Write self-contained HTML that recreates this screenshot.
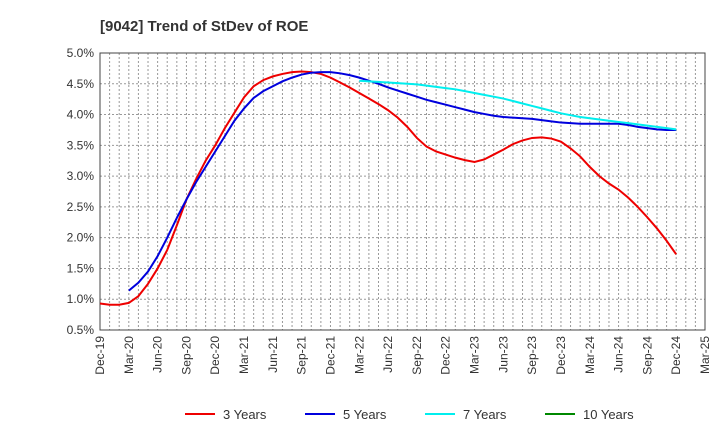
<!DOCTYPE html>
<html><head><meta charset="utf-8"><style>
body{margin:0;background:#fff;font-family:"Liberation Sans",sans-serif}
</style></head><body>
<svg id="c" width="720" height="440" xmlns="http://www.w3.org/2000/svg" style="font-family:'Liberation Sans',sans-serif">
<text x="100" y="31" font-size="15" font-weight="bold" fill="#333">[9042]  Trend of StDev of ROE</text>
</svg>
<script>
const xLabels=["Dec-19","Mar-20","Jun-20","Sep-20","Dec-20","Mar-21","Jun-21","Sep-21","Dec-21","Mar-22","Jun-22","Sep-22","Dec-22","Mar-23","Jun-23","Sep-23","Dec-23","Mar-24","Jun-24","Sep-24","Dec-24","Mar-25"];
const yTicks=[0.5,1.0,1.5,2.0,2.5,3.0,3.5,4.0,4.5,5.0];
const s3=[0.93,0.91,0.91,0.94,1.05,1.25,1.5,1.8,2.2,2.62,2.95,3.25,3.5,3.78,4.03,4.28,4.46,4.56,4.62,4.66,4.69,4.7,4.69,4.66,4.6,4.52,4.44,4.35,4.26,4.17,4.07,3.95,3.8,3.62,3.48,3.4,3.35,3.3,3.26,3.23,3.27,3.35,3.43,3.52,3.58,3.62,3.63,3.61,3.56,3.45,3.32,3.15,3.0,2.88,2.78,2.65,2.5,2.33,2.15,1.95,1.73];
const s5=[1.14,1.27,1.45,1.7,2.0,2.32,2.62,2.9,3.15,3.4,3.65,3.9,4.1,4.27,4.38,4.46,4.54,4.6,4.65,4.68,4.69,4.69,4.67,4.64,4.6,4.55,4.5,4.44,4.39,4.34,4.29,4.24,4.2,4.16,4.12,4.08,4.04,4.01,3.98,3.96,3.95,3.94,3.93,3.91,3.89,3.87,3.86,3.85,3.85,3.85,3.85,3.85,3.83,3.8,3.78,3.76,3.75,3.75];
const s7=[4.55,4.54,4.53,4.52,4.51,4.5,4.49,4.47,4.45,4.43,4.41,4.38,4.35,4.32,4.29,4.26,4.22,4.18,4.14,4.1,4.06,4.02,3.99,3.96,3.94,3.92,3.9,3.88,3.86,3.84,3.82,3.8,3.78,3.76];
const s10=[];
const seriesNames=["3 Years","5 Years","7 Years","10 Years"];
const L=100,R=705,T=53,B=330,NS="http://www.w3.org/2000/svg";
const svg=document.getElementById('c');
const xm=m=>L+(R-L)*m/63;
const y=v=>B-(v-0.5)/4.5*(B-T);
function el(t,a,p){const e=document.createElementNS(NS,t);for(const k in a)e.setAttribute(k,a[k]);(p||svg).appendChild(e);return e;}
for(let m=1;m<63;m++){const g=el('line',{x1:xm(m),x2:xm(m),y1:T,y2:B,stroke:'#999','stroke-dasharray':'2,2','stroke-width':1});

}
yTicks.forEach(v=>{if(v>0.5&&v<5){const g=el('line',{x1:L,x2:R,y1:y(v),y2:y(v),stroke:'#999','stroke-dasharray':'2,2'});

}
const t=el('text',{x:L-6,y:y(v)+4,'text-anchor':'end','font-size':12,fill:'#333'});t.textContent=v.toFixed(1)+'%';

});
const fr=el('rect',{x:L,y:T,width:R-L,height:B-T,fill:'none',stroke:'#444'});


xLabels.forEach((s,i)=>{const x=xm(i*3);const t=el('text',{x:x+4,y:B+6,'text-anchor':'end','font-size':12,fill:'#333',transform:`rotate(-90 ${x+4} ${B+6})`});t.textContent=s;

});
const cols=['#ee0000','#0000dd','#00eeee','#008800'];
[[s3,0],[s5,3],[s7,27],[s10,0]].forEach(([d,o],k)=>{if(!d.length)return;const p=el('polyline',{points:d.map((v,i)=>xm(o+i)+','+y(v)).join(' '),fill:'none',stroke:cols[k],'stroke-width':2});

});
const lx=[185,305,425,545];
seriesNames.forEach((n,k)=>{const g=el('g',{});


el('line',{x1:lx[k],x2:lx[k]+30,y1:414,y2:414,stroke:cols[k],'stroke-width':2},g);
const t=el('text',{x:lx[k]+38,y:419,'font-size':13,fill:'#333'},g);t.textContent=n;});
</script>
</body></html>
